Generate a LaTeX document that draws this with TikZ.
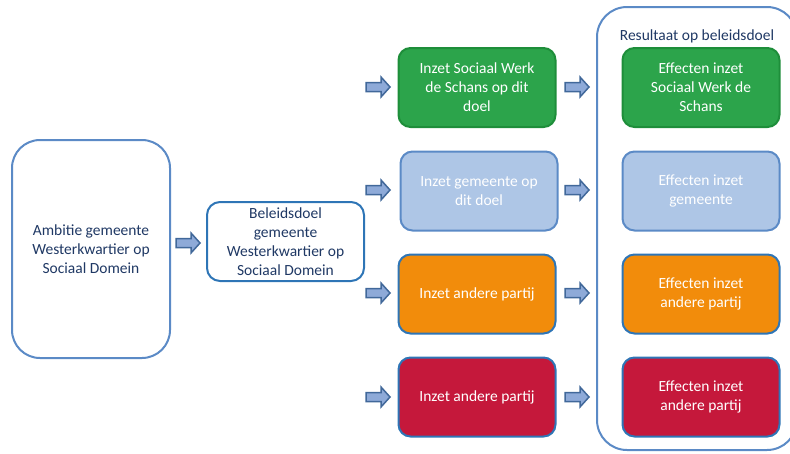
\documentclass[tikz,border=0pt]{standalone}
\usepackage{fontspec}
\setmainfont{Carlito}
\definecolor{navy}{HTML}{1F3864}
\definecolor{bordblue}{HTML}{2E75B6}
\definecolor{softblue}{HTML}{5B8AC6}
\definecolor{greenfill}{HTML}{2CA44B}
\definecolor{greenbord}{HTML}{1E8E3A}
\definecolor{lbfill}{HTML}{AEC6E6}
\definecolor{orfill}{HTML}{F28C0B}
\definecolor{redfill}{HTML}{C5183B}
\definecolor{arrfill}{HTML}{8EAAD8}
\definecolor{arrbord}{HTML}{41689A}
\tikzset{
  x=1pt,y=-1pt,
  txt/.style={font=\fontsize{15.5}{19}\selectfont, align=center},
  boxbase/.style={rectangle, rounded corners=12pt, minimum width=157pt, minimum height=79pt, line width=2pt, txt, inner sep=2pt},
  greenbox/.style={boxbase, draw=greenbord, fill=greenfill, text=white},
  lbbox/.style={boxbase, draw=softblue, fill=lbfill, text=white},
  orbox/.style={boxbase, draw=bordblue, fill=orfill, text=white},
  redbox/.style={boxbase, draw=bordblue, fill=redfill, text=white},
  blockarr/.pic={\draw[draw=arrbord, fill=arrfill, line width=1.5pt, line join=miter]
     (0,-4.5)--(15,-4.5)--(15,-10)--(24,0)--(15,10)--(15,4.5)--(0,4.5)--cycle;}
}
\begin{document}
\begin{tikzpicture}
\useasboundingbox (0,0) rectangle (790,453);
% container
\draw[softblue, line width=2pt, rounded corners=30pt] (597,7) rectangle (797,450);
\node[txt, text=navy] (title) at (697,36) {Resultaat op beleidsdoel};
% left
\node[rectangle, rounded corners=28pt, draw=softblue, line width=2pt, minimum width=158pt, minimum height=218pt, txt, text=navy] (amb) at (91,249) {Ambitie gemeente\\Westerkwartier op\\Sociaal Domein};
\node[rectangle, rounded corners=13pt, draw=bordblue, line width=2pt, minimum width=157pt, minimum height=79pt, txt, text=navy, inner sep=1pt] (bel) at (285.5,241.5) {Beleidsdoel\\gemeente\\Westerkwartier op\\Sociaal Domein};
% middle column
\node[greenbox] (i1) at (477,87.5) {Inzet Sociaal Werk\\de Schans op dit\\doel};
\node[lbbox] (i2) at (479,191) {Inzet gemeente op\\dit doel};
\node[orbox] (i3) at (477,294) {Inzet andere partij};
\node[redbox] (i4) at (477,397) {Inzet andere partij};
% right column
\node[greenbox] (e1) at (701,87.5) {Effecten inzet\\Sociaal Werk de\\Schans};
\node[lbbox] (e2) at (701,191) {Effecten inzet\\gemeente};
\node[orbox] (e3) at (701,294) {Effecten inzet\\andere partij};
\node[redbox] (e4) at (701,397) {Effecten inzet\\andere partij};
% block arrows
\pic at (176,243) {blockarr};
\foreach \y in {87,190,293,397} {
  \pic at (366,\y) {blockarr};
  \pic at (565,\y) {blockarr};
}
\end{tikzpicture}
\end{document}
